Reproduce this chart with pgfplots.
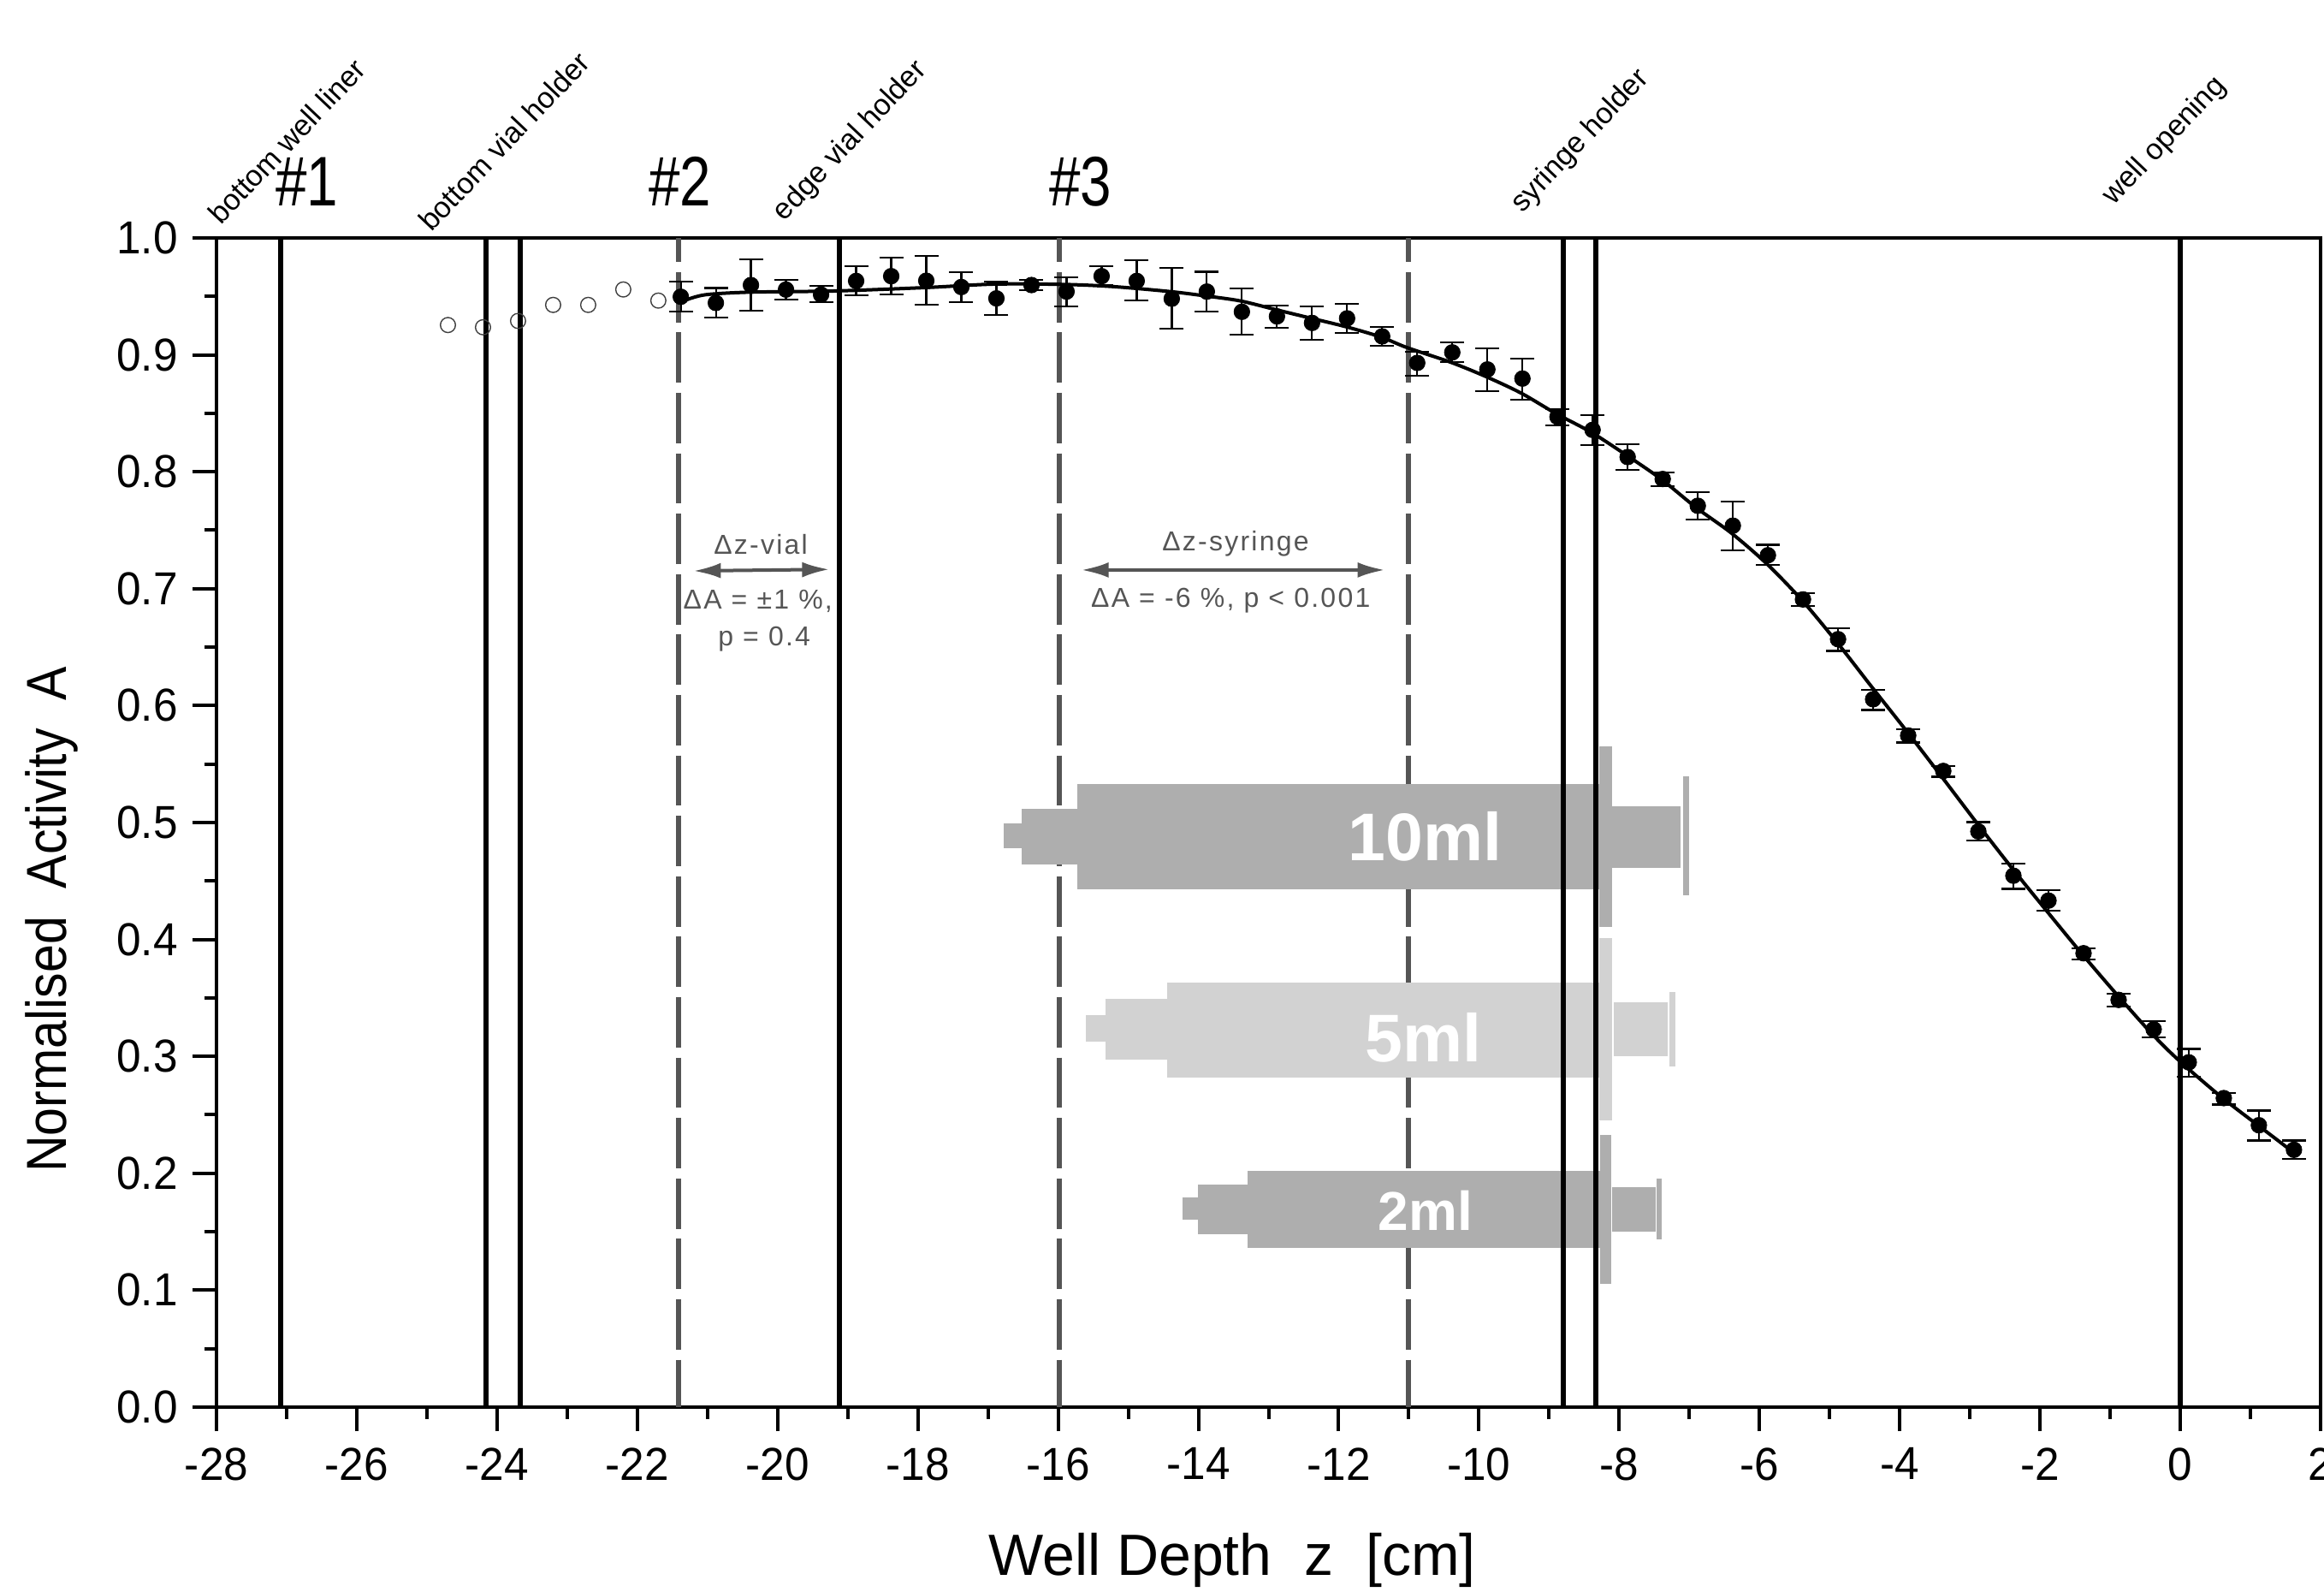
\documentclass[border=0pt]{standalone}
\usepackage{fontspec}
\usepackage{graphicx}
\setmainfont{Liberation Sans}
\newfontfamily\annot[LetterSpace=7]{Liberation Sans}
\usepackage{pgfplots}
\usepackage{pgfplotstable}
\pgfplotsset{compat=1.18}
\usetikzlibrary{arrows.meta}
\definecolor{sd}{HTML}{AEAEAE}
\definecolor{sl}{HTML}{D2D2D2}
\definecolor{dg}{HTML}{555555}
\pgfplotstableread{
z y t b
-21.38 .9497 .9624 .9373
-20.88 .9444 .9571 .9319
-20.38 .9597 .9815 .9378
-19.88 .9558 .9641 .9473
-19.38 .9515 .959 .9448
-18.88 .9632 .9758 .951
-18.38 .9673 .9832 .9515
-17.88 .9634 .9844 .9427
-17.38 .958 .9707 .9448
-16.88 .9483 .9627 .9339
-16.38 .9597 .9641 .9556
-15.88 .9541 .9663 .9412
-15.38 .9673 .9758 .9595
-14.88 .9632 .9807 .9463
-14.38 .948 .9741 .9224
-13.88 .9541 .971 .9368
-13.38 .9368 .9566 .917
-12.88 .9329 .9424 .9234
-12.38 .9273 .9414 .9126
-11.88 .9312 .9434 .9185
-11.38 .9158 .9239 .9075
-10.88 .8931 .9029 .8821
-10.38 .9021 .9104 .8941
-9.88 .8875 .9058 .8687
-9.38 .8797 .8968 .8619
-8.88 .847 .8538 .8399
-8.38 .8358 .8485 .8231
-7.88 .8126 .8238 .8016
-7.38 .7938 .7992 .7879
-6.88 .7709 .7828 .7589
-6.38 .7539 .7744 .7329
-5.88 .7286 .7375 .7202
-5.38 .6908 .6962 .6854
-4.88 .6568 .666 .6467
-4.38 .6054 .6135 .5963
-3.88 .5744 .5799 .5685
-3.38 .5441 .5483 .5391
-2.88 .4924 .5004 .4845
-2.38 .4545 .4651 .4433
-1.88 .4332 .442 .4244
-1.38 .3882 .3925 .3831
-0.88 .3483 .3534 .3425
-0.38 .3231 .3299 .316
0.12 .2949 .3063 .2828
0.62 .2643 .2685 .2588
1.12 .2411 .2537 .2281
1.62 .2201 .2281 .2122
}\measured
\pgfplotstableread{
z y
-24.70 .9255
-24.20 .9236
-23.70 .9290
-23.20 .9427
-22.70 .9427
-22.20 .9559
-21.70 .9464
}\excluded
\pgfplotstableread{
z y
-21.31 .9468
-21.03 .9514
-20.40 .9536
-19.20 .9546
-17.90 .9575
-16.90 .9605
-15.90 .9602
-15.20 .9583
-14.40 .9541
-13.90 .9504
-13.40 .9461
-12.90 .9387
-12.40 .9314
-11.90 .9241
-11.40 .9153
-11.03 .9063
-10.40 .8936
-9.90 .8814
-9.40 .8673
-8.90 .8497
-8.40 .8338
-7.90 .8143
-7.40 .7936
-6.90 .7692
-6.40 .7475
-5.90 .7215
-5.40 .6905
-4.90 .6545
-4.40 .6160
-3.90 .5780
-3.40 .5390
-2.90 .4995
-2.40 .4610
-1.90 .4240
-1.40 .3875
-0.90 .3525
-0.40 .3190
0.00 .2954
0.60 .2645
1.12 .2405
1.62 .2176
}\fitcurve
\newcommand{\rect}[5]{\addplot[fill=#1,draw=none] coordinates {(#2,#4)(#3,#4)(#3,#5)(#2,#5)} --cycle;}
\newcommand{\solidv}[1]{\addplot[black,line width=1.5pt] coordinates {(#1,1)(#1,0)};}
\newcommand{\dline}[1]{\addplot[dg,line width=1.5pt,dash pattern=on 14.7pt off 2.95pt,dash phase=7.7pt] coordinates {(#1,1)(#1,0)};}
\begin{document}
\begin{tikzpicture}
\useasboundingbox (-63.25pt,-54pt) rectangle (615.75pt,411pt);
\begin{axis}[
  at={(0pt,0pt)},anchor=south west,
  scale only axis,width=614.75pt,height=341.5pt,
  xmin=-28,xmax=2,ymin=0,ymax=1,
  xtick={-28,-26,...,2},
  ytick={0,0.1,...,1.01},
  minor x tick num=1,minor y tick num=1,
  tick align=outside,tick pos=left,
  major tick length=7pt,minor tick length=3.5pt,
  every tick/.style={black,line width=1pt},
  axis line style={line width=1.1pt},
  clip=false,
  /pgf/number format/assume math mode=true,
  tick label style={font=\fontsize{13.5}{16}\selectfont,xscale=.95},
  yticklabel style={/pgf/number format/fixed,/pgf/number format/fixed zerofill,/pgf/number format/precision=1,xshift=-1pt},
  xticklabel style={yshift=-1.3pt},
  xlabel={Well Depth\ \ z\ \ [cm]},
  ylabel={\scalebox{.895}[1]{Normalised\ \ Activity\ \ A}},
  every axis x label/.style={at={(axis description cs:0.4827,-0.131)},anchor=center,font=\fontsize{17}{20}\selectfont},
  every axis y label/.style={at={(axis description cs:-0.0783,0.417)},anchor=center,rotate=90,font=\fontsize{16.5}{20}\selectfont},
]
\dline{-21.41}
\dline{-15.98}
\dline{-11.01}
% 10 ml syringe
\rect{sd}{-16.78}{-16.52}{.4781}{.4993}
\rect{sd}{-16.52}{-15.73}{.4641}{.5117}
\rect{sd}{-15.73}{-8.28}{.4432}{.5327}
\rect{sd}{-8.28}{-8.10}{.4105}{.5648}
\rect{sd}{-8.10}{-7.12}{.4613}{.5140}
\rect{sd}{-7.09}{-7.00}{.4381}{.5397}
% 5 ml syringe
\rect{sl}{-15.60}{-15.32}{.3124}{.3353}
\rect{sl}{-15.32}{-14.45}{.2971}{.3489}
\rect{sl}{-14.45}{-8.28}{.2822}{.3629}
\rect{sl}{-8.28}{-8.10}{.2454}{.4009}
\rect{sl}{-8.08}{-7.31}{.3003}{.3460}
\rect{sl}{-7.29}{-7.20}{.2917}{.3549}
% 2 ml syringe
\rect{sd}{-14.23}{-14.01}{.1603}{.1794}
\rect{sd}{-14.01}{-13.30}{.1482}{.1901}
\rect{sd}{-13.30}{-8.27}{.1362}{.2019}
\rect{sd}{-8.27}{-8.12}{.1057}{.2327}
\rect{sd}{-8.10}{-7.48}{.1504}{.1879}
\rect{sd}{-7.47}{-7.39}{.1435}{.1958}
\solidv{-27.08}
\solidv{-24.16}
\solidv{-23.67}
\solidv{-19.12}
\solidv{-8.80}
\solidv{-8.33}
\solidv{0}
% arrows
\addplot[dg,line width=1pt,{Latex[length=8pt,width=4.5pt]}-{Latex[length=8pt,width=4.5pt]}] coordinates {(-21.2,.7152)(-19.26,.7165)};
\addplot[dg,line width=1pt,{Latex[length=8pt,width=4.5pt]}-{Latex[length=8pt,width=4.5pt]}] coordinates {(-15.67,.7160)(-11.34,.7160)};
% fit and data
\addplot[black,line width=1pt,smooth] table[x=z,y=y] {\fitcurve};
\addplot[only marks,mark=*,mark size=2.3pt,mark options={fill=black,draw=black,line width=0.2pt},
  error bars/.cd,y dir=both,y explicit,error bar style={line width=0.55pt,black},error mark options={rotate=90,mark size=3.5pt,line width=0.55pt,black}]
  table[x=z,y=y,y error plus expr=\thisrow{t}-\thisrow{y},y error minus expr=\thisrow{y}-\thisrow{b}] {\measured};
\addplot[only marks,mark=o,mark size=2.2pt,mark options={draw=black!75,line width=0.35pt,fill=none}] table[x=z,y=y] {\excluded};
% text
\node[dg,font=\annot\fontsize{8}{10}\selectfont] at (axis cs:-20.24,.7379) {Δz-vial};
\node[dg,font=\annot\fontsize{8}{10}\selectfont] at (axis cs:-20.28,.6896) {ΔA = ±1 \%,};
\node[dg,font=\annot\fontsize{8}{10}\selectfont] at (axis cs:-20.19,.6567) {p = 0.4};
\node[dg,font=\annot\fontsize{8}{10}\selectfont] at (axis cs:-13.47,.7387) {Δz-syringe};
\node[dg,font=\annot\fontsize{8}{10}\selectfont] at (axis cs:-13.54,.6896) {ΔA = -6 \%, p < 0.001};
\node[rotate=46.5,font=\fontsize{8.6}{11}\selectfont] at (axis cs:-27.0,1.0827) {bottom well liner};
\node[rotate=46.5,font=\fontsize{8.6}{11}\selectfont] at (axis cs:-23.9,1.0827) {bottom vial holder};
\node[rotate=46.5,font=\fontsize{8.6}{11}\selectfont] at (axis cs:-18.96,1.0827) {edge vial holder};
\node[rotate=46.5,font=\fontsize{8.6}{11}\selectfont] at (axis cs:-8.55,1.0827) {syringe holder};
\node[rotate=46.5,font=\fontsize{8.6}{11}\selectfont] at (axis cs:-0.22,1.0827) {well opening};
\node[xscale=.8,font=\fontsize{20.5}{24}\selectfont] at (axis cs:-26.71,1.0483) {\#1};
\node[xscale=.8,font=\fontsize{20.5}{24}\selectfont] at (axis cs:-21.39,1.0483) {\#2};
\node[xscale=.8,font=\fontsize{20.5}{24}\selectfont] at (axis cs:-15.68,1.0483) {\#3};
\node[white,font=\bfseries\fontsize{19.7}{24}\selectfont] at (axis cs:-10.77,.4883) {10ml};
\node[white,font=\bfseries\fontsize{19.7}{24}\selectfont] at (axis cs:-10.79,.3159) {5ml};
\node[white,font=\bfseries\fontsize{16}{20}\selectfont] at (axis cs:-10.76,.1684) {2ml};
\end{axis}
\end{tikzpicture}
\end{document}
